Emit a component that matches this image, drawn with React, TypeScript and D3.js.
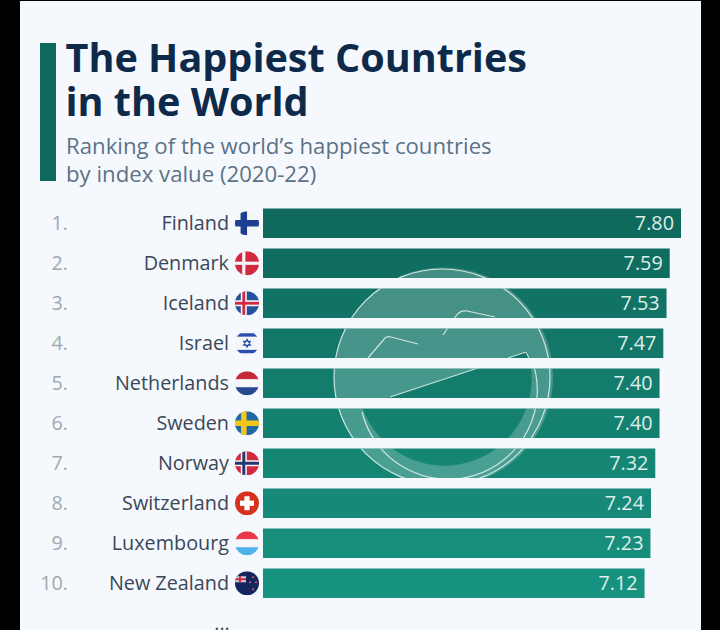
import React from "react";
import * as d3 from "d3";

const countries = ["Finland","Denmark","Iceland","Israel","Netherlands","Sweden","Norway","Switzerland","Luxembourg","New Zealand"];
const values = [7.80,7.59,7.53,7.47,7.40,7.40,7.32,7.24,7.23,7.12];
const valueLabels = ["7.80","7.59","7.53","7.47","7.40","7.40","7.32","7.24","7.23","7.12"];
const ranks = ["1.","2.","3.","4.","5.","6.","7.","8.","9.","10."];
const titleLines = ["The Happiest Countries","in the World"];
const subtitleLines = ["Ranking of the world’s happiest countries","by index value (2020-22)"];

const FONT = "'Open Sans', sans-serif";
const x = d3.scaleLinear().domain([0, 7.8]).range([263, 681]);
const y = d3.scaleBand<string>().domain(countries).range([208.5, 598]).paddingInner(0.2625).paddingOuter(0);
const barColor = d3.scaleLinear<string>().domain([0, 9]).range(["#0f6a5d", "#189280"]);

function crossFlag(bg: string, arm: string, inner?: string, armW = 6.5, innerW = 3) {
  return (
    <g>
      <rect x={-12} y={-12} width={24} height={24} fill={bg} />
      <rect x={-12} y={-armW/2} width={24} height={armW} fill={arm} />
      <rect x={-3.2-armW/2} y={-12} width={armW} height={24} fill={arm} />
      {inner && <rect x={-12} y={-innerW/2} width={24} height={innerW} fill={inner} />}
      {inner && <rect x={-3.2-innerW/2} y={-12} width={innerW} height={24} fill={inner} />}
    </g>
  );
}
function stripes(cols: string[]) {
  const s = d3.scaleBand<number>().domain(d3.range(cols.length)).range([-12, 12]);
  return cols.map((c, i) => <rect key={i} x={-12} y={s(i)} width={24} height={s.bandwidth()+0.3} fill={c} />);
}
function flag(name: string) {
  switch (name) {
    case "Finland": return crossFlag("#f4f6f8", "#1c3f94", undefined, 6.5);
    case "Denmark": return crossFlag("#d3293f", "#f4f6f8", undefined, 3.2);
    case "Iceland": return crossFlag("#24509c", "#f4f6f8", "#d3293f", 6, 2.8);
    case "Israel": return (
      <g>
        <rect x={-12} y={-12} width={24} height={24} fill="#f4f6f8" />
        <rect x={-12} y={-10} width={24} height={3.4} fill="#2a4fb0" />
        <rect x={-12} y={6.6} width={24} height={3.4} fill="#2a4fb0" />
        <path d="M0,-4 L3.4,2 L-3.4,2 Z M0,4 L3.4,-2 L-3.4,-2 Z" fill="none" stroke="#2a4fb0" strokeWidth={1.1} />
      </g>
    );
    case "Netherlands": return <g>{stripes(["#c6283b","#f4f6f8","#27498f"])}</g>;
    case "Sweden": return crossFlag("#1f6aa5", "#f5c518", undefined, 5.5);
    case "Norway": return crossFlag("#d3293f", "#f4f6f8", "#24386f", 6, 3);
    case "Switzerland": return (
      <g>
        <rect x={-12} y={-12} width={24} height={24} fill="#d8301f" />
        <rect x={-7} y={-2.6} width={14} height={5.2} fill="#fff" />
        <rect x={-2.6} y={-7} width={5.2} height={14} fill="#fff" />
      </g>
    );
    case "Luxembourg": return <g>{stripes(["#e8384a","#f4f6f8","#4fb3e8"])}</g>;
    default: return (
      <g>
        <rect x={-12} y={-12} width={24} height={24} fill="#15265f" />
        <rect x={-12} y={-7} width={11} height={6} fill="#c9d0e0" />
        <rect x={-12} y={-5} width={11} height={2} fill="#d3293f" />
        <rect x={-8} y={-7} width={2} height={6} fill="#d3293f" />
        {[[6,-6],[3,-1],[9,-1],[6,6]].map(([a,b],i)=><circle key={i} cx={a} cy={b} r={1.1} fill="#e0566a" />)}
      </g>
    );
  }
}

export default function App() {
  const band = y.bandwidth();
  const cx = 443.5, cy = 377, R = 109.5, r = 84;
  const chord = { x1: 362, y1: 406.5, x2: 527, y2: 350.5 };
  const circle = (rad: number) => `M${cx-rad},${cy}A${rad},${rad} 0 1 1 ${cx+rad},${cy}A${rad},${rad} 0 1 1 ${cx-rad},${cy}Z`;
  const segment = `M${chord.x1},${chord.y1}L${chord.x2},${chord.y2}A${r+2},${r+2} 0 1 1 ${chord.x1},${chord.y1}Z`;
  return (
    <svg width={720} height={630} viewBox="0 0 720 630" style={{ position: "absolute", left: 0, top: 0, display: "block" }} fontFamily={FONT}>
      <defs>
        <clipPath id="bars">
          {countries.map((c, i) => <rect key={c} x={x(0)} y={y(c)} width={x(values[i]) - x(0)} height={band} />)}
        </clipPath>
        <clipPath id="flagClip"><circle r={12} /></clipPath>
      </defs>
      <rect width={720} height={630} fill="#000" />
      <rect x={20} y={1} width={681} height={629} fill="#f5f9fd" />
      <rect x={40} y={43} width={16} height={138} fill="#0f6a5d" />
      <text fontSize={39.6} fontWeight={700} fill="#0d2a4b">
        {titleLines.map((t, i) => <tspan key={t} x={65.5} y={71.5 + i * 44}>{t}</tspan>)}
      </text>
      <text fontSize={22.2} fill="#5d7286">
        {subtitleLines.map((t, i) => <tspan key={t} x={66} y={154 + i * 28}>{t}</tspan>)}
      </text>
      {countries.map((c, i) => {
        const mid = (y(c) as number) + band / 2;
        return (
          <g key={c}>
            <text x={68} y={mid + 7} textAnchor="end" fontSize={19.8} fill="#a0a9b0">{ranks[i]}</text>
            <text x={229} y={mid + 7} textAnchor="end" fontSize={19.8} fill="#3a4757">{c}</text>
            <g transform={`translate(247,${mid})`}>
              <g clipPath="url(#flagClip)">{flag(c)}</g>
            </g>
            <rect x={x(0)} y={y(c)} width={x(values[i]) - x(0)} height={band} fill={barColor(i)} />
          </g>
        );
      })}
      <g clipPath="url(#bars)">
        <path d={circle(R) + segment} fillRule="evenodd" fill="#fff" fillOpacity={0.22} />
        <g fill="none" stroke="#e6f2ef" strokeWidth={1.2} strokeOpacity={0.85}>
          <circle cx={442} cy={377} r={108} />
          <path d="M532,360A89,89 0 1 1 362,412" />
          <path d="M390,397L526,352L529,358" />
          <path d="M368,358L385,338Q388,336 391,337L418,344" />
          <path d="M443,335L456,316Q460,310 467,311L495,317" />
        </g>
      </g>
      {countries.map((c, i) => (
        <text key={c} x={x(values[i]) - 7} y={(y(c) as number) + band / 2 + 7} textAnchor="end" fontSize={19.8} fill="#dfeeea">{valueLabels[i]}</text>
      ))}
      <text x={222} y={629.5} textAnchor="middle" fontSize={19.5} fill="#3d4b5c">...</text>
    </svg>
  );
}
